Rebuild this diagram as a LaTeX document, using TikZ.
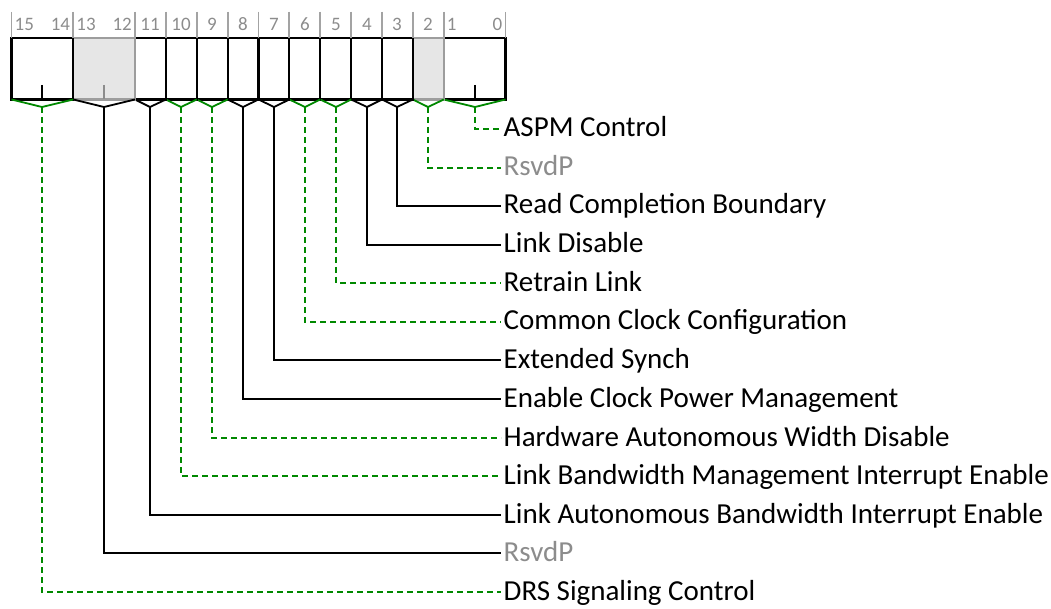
\documentclass[tikz,border=0pt]{standalone}
\usepackage{fontspec}
\setmainfont{Carlito}
\definecolor{sigcol}{HTML}{008800}
\definecolor{rsvcol}{HTML}{8C8C8C}
\definecolor{rsvfill}{HTML}{E6E6E6}
\tikzset{
    bitfield/.style={draw=black, fill=white, line width=2.2pt},
    rsvdfield/.style={draw=rsvcol!85, fill=rsvfill, line width=2.2pt},
    bittick/.style={draw=black, line width=1.8pt},
    rsvdtick/.style={draw=rsvcol, line width=1.8pt},
    bitlabel/.style={text=black},
    rsvdlabel/.style={text=rsvcol},
    sigbrace/.style={draw=sigcol, line width=1.8pt},
    sigconn/.style={sigbrace, line width=2pt, dash pattern=on 6pt off 4pt},
    blkbrace/.style={draw=black, line width=1.8pt},
    blkconn/.style={blkbrace},
    tickmark/.style={draw=rsvcol!80, line width=1.8pt},
    bitnum/.style={text=rsvcol, inner sep=3pt, font=\fontsize{19}{19}\selectfont},
    fieldname/.style={anchor=west, inner sep=2.5pt, text height=21pt, text depth=5pt,
        font=\fontsize{29}{29}\selectfont}
}
\begin{document}
\begin{tikzpicture}[x=1pt, y=-1pt]
    \useasboundingbox (0, 0) rectangle (1051, 609);
    % fields from bit 0 up: msb/lsb/name/line colour/kind
    \foreach \msb/\lsb/\txt/\col/\kind [count=\r from 0] in {
        1/0/ASPM Control/sig/bit,
        2/2/RsvdP/sig/rsvd,
        3/3/Read Completion Boundary/blk/bit,
        4/4/Link Disable/blk/bit,
        5/5/Retrain Link/sig/bit,
        6/6/Common Clock Configuration/sig/bit,
        7/7/Extended Synch/blk/bit,
        8/8/Enable Clock Power Management/blk/bit,
        9/9/Hardware Autonomous Width Disable/sig/bit,
        10/10/Link Bandwidth Management Interrupt Enable/sig/bit,
        11/11/Link Autonomous Bandwidth Interrupt Enable/blk/bit,
        13/12/RsvdP/blk/rsvd,
        15/14/DRS Signaling Control/sig/bit} {
        \pgfmathsetmacro{\xl}{11.5 + (15 - \msb) * 30.875}
        \pgfmathsetmacro{\xr}{11.5 + (16 - \lsb) * 30.875}
        \pgfmathsetmacro{\xc}{round((\xl + \xr) / 2)}
        \pgfmathsetmacro{\yl}{round(129.3 + \r * 38.53)}
        \draw[\kind field] (\xl, 38) rectangle (\xr, 99.5);
        \draw[tickmark] (\xl, 12) -- (\xl, 38) (\xr, 12) -- (\xr, 38);
        \ifnum\msb=\lsb
            \node[bitnum] (n\r) at (\xc, 24) {\msb};
        \else
            \node[bitnum, anchor=west] (n\r) at (\xl, 24) {\msb};
            \node[bitnum, anchor=east] (m\r) at (\xr, 24) {\lsb};
            \draw[\kind tick] (\xc, 85) -- (\xc, 99.5);  % middle mark
        \fi
        \coordinate (f\r) at (\xc, 107);
        \draw[\col brace] (\xl, 99.5) -- (f\r) -- (\xr, 99.5);
        \node[fieldname, \kind label] (l\r) at (501, \yl) {\txt};
        \draw[\col conn] (f\r) |- (l\r.west);
    }
\end{tikzpicture}
\end{document}
